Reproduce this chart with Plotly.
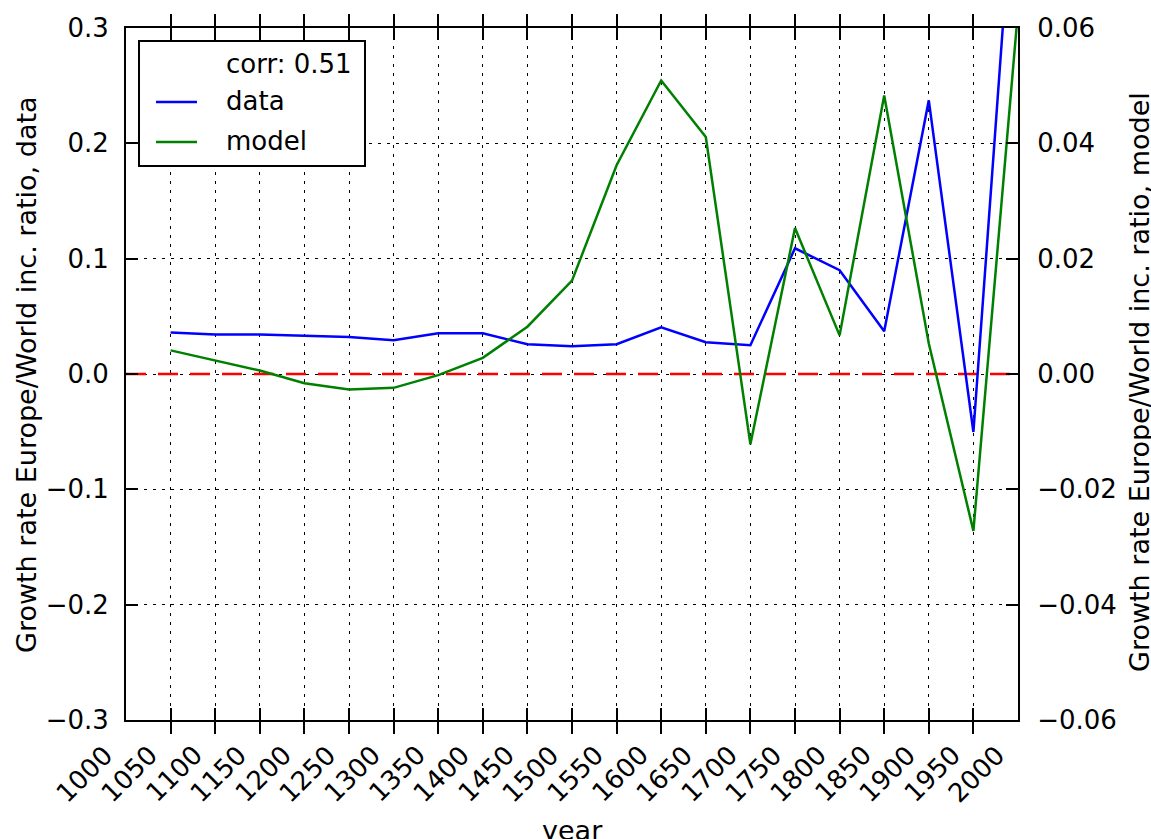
import plotly.graph_objects as go

# Growth rate of the Europe/World income ratio, per 50-year step
years = [1050, 1100, 1150, 1200, 1250, 1300, 1350, 1400, 1450, 1500,
         1550, 1600, 1650, 1700, 1750, 1800, 1850, 1900, 1950, 2000]
data_growth = [0.0359, 0.0342, 0.0342, 0.0330, 0.0321, 0.0292, 0.0353, 0.0353, 0.0258, 0.0240,
               0.0258, 0.0405, 0.0275, 0.0250, 0.1090, 0.0900, 0.0370, 0.2373, -0.0503, 0.4820]
model_growth = [0.0041, 0.0024, 0.0006, -0.0016, -0.0027, -0.0024, -0.0002, 0.0028, 0.0082, 0.0162,
                0.0362, 0.0509, 0.0411, -0.0122, 0.0253, 0.0067, 0.0483, 0.0053, -0.0272, 0.0630]

x_tick_years = list(range(1000, 2001, 50))
left_ticks = [-0.3, -0.2, -0.1, 0.0, 0.1, 0.2, 0.3]
left_tick_text = ["\u22120.3", "\u22120.2", "\u22120.1", "0.0", "0.1", "0.2", "0.3"]
right_ticks = [-0.06, -0.04, -0.02, 0.0, 0.02, 0.04, 0.06]
right_tick_text = ["\u22120.06", "\u22120.04", "\u22120.02", "0.00", "0.02", "0.04", "0.06"]
x_range = [1000, 2000]
zero_level = [0.0, 0.0]

corr_label = "corr: 0.51"
data_label = "data"
model_label = "model"
x_title = "year"
left_title = "Growth rate Europe/World inc. ratio, data"
right_title = "Growth rate Europe/World inc. ratio, model"

FONT = "DejaVu Sans"
FS = 26
FS_TITLE = 27
W, H = 1151, 839
L, R, T, B = 126, 133, 28, 119
PW, PH = W - L - R, H - T - B


def px(xp):
    return (xp - L) / PW


def py(yp):
    return (H - B - yp) / PH


fig = go.Figure()

fig.add_trace(go.Scatter(x=x_range, y=zero_level, mode="lines", yaxis="y",
                         line=dict(color="#ff0000", width=2.5, dash="20px,12px")))
fig.add_trace(go.Scatter(x=years, y=data_growth, mode="lines", yaxis="y", name=data_label,
                         line=dict(color="#0000ff", width=2.5)))
fig.add_trace(go.Scatter(x=years, y=model_growth, mode="lines", yaxis="y2", name=model_label,
                         line=dict(color="#008000", width=2.5)))

axis_common = dict(ticks="inside", ticklen=12, tickwidth=1.5, tickcolor="black",
                   showline=True, linecolor="black", linewidth=2, zeroline=False,
                   tickfont=dict(family=FONT, size=FS, color="black"))
grid_style = dict(showgrid=True, gridcolor="black", gridwidth=1.3, griddash="3px,6px")

fig.update_layout(
    width=W, height=H,
    margin=dict(l=L, r=R, t=T, b=B),
    paper_bgcolor="white", plot_bgcolor="white",
    showlegend=False,
    font=dict(family=FONT, size=FS, color="black"),
    xaxis=dict(range=x_range, tickvals=x_tick_years, showticklabels=False,
               mirror="allticks", **axis_common, **grid_style),
    yaxis=dict(range=[-0.3, 0.3], tickvals=left_ticks, ticktext=left_tick_text,
               ticklabelstandoff=10, **axis_common, **grid_style),
    yaxis2=dict(range=[-0.06, 0.06], tickvals=right_ticks, ticktext=right_tick_text,
                overlaying="y", side="right", showgrid=False, ticklabelstandoff=12,
                **axis_common),
)

annotations = []
# rotated year labels under the x axis
for yr in x_tick_years:
    annotations.append(dict(text=str(yr), x=yr, xref="x", y=0, yref="paper",
                            xshift=-41.6, yshift=-17, textangle=-45,
                            xanchor="center", yanchor="top", showarrow=False,
                            font=dict(family=FONT, size=FS, color="black")))

# axis titles
annotations.append(dict(text=x_title, x=0.5, xref="paper", y=py(830), yref="paper",
                        xanchor="center", yanchor="middle", showarrow=False,
                        font=dict(family=FONT, size=FS_TITLE, color="black")))
annotations.append(dict(text=left_title, x=px(27), xref="paper", y=py(375), yref="paper",
                        textangle=-90, xanchor="center", yanchor="middle", showarrow=False,
                        font=dict(family=FONT, size=FS_TITLE, color="black")))
annotations.append(dict(text=right_title, x=px(1139), xref="paper", y=py(382), yref="paper",
                        textangle=-90, xanchor="center", yanchor="middle", showarrow=False,
                        font=dict(family=FONT, size=FS_TITLE, color="black")))

# legend box
shapes = [dict(type="rect", xref="paper", yref="paper", x0=px(139), x1=px(365),
               y0=py(166), y1=py(41), line=dict(color="black", width=2),
               fillcolor="white", layer="above")]
legend_rows = [(corr_label, None, 65), (data_label, "#0000ff", 102), (model_label, "#008000", 142)]
for label, color, yrow in legend_rows:
    if color is not None:
        shapes.append(dict(type="line", xref="paper", yref="paper", x0=px(156), x1=px(197),
                           y0=py(yrow), y1=py(yrow), line=dict(color=color, width=2.5),
                           layer="above"))
    annotations.append(dict(text=label, x=px(224), xref="paper", y=py(yrow - 1), yref="paper",
                            xanchor="left", yanchor="middle", showarrow=False,
                            font=dict(family=FONT, size=FS, color="black")))

fig.update_layout(annotations=annotations, shapes=shapes)

fig.write_html("out.html")
